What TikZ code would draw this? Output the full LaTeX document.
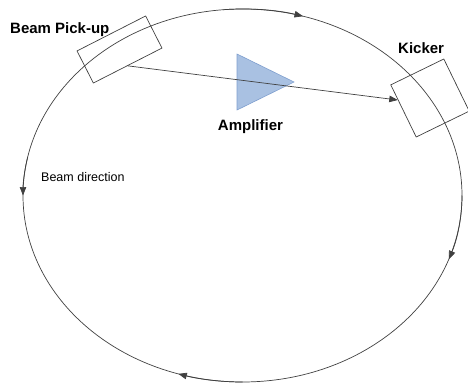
\documentclass[tikz,border=0pt]{standalone}
\usepackage{fontspec}
\setmainfont{Liberation Sans}
\usetikzlibrary{positioning, calc, arrows.meta}

\definecolor{ampfill}{RGB}{169,193,226}
\definecolor{ampline}{RGB}{127,159,207}

\begin{document}
\begin{tikzpicture}[
        x=1pt, y=-1pt,
        >={Triangle[length=8.5pt, width=6.5pt]},
        ring/.style={draw=black!75, line width=0.7pt},
        beamarr/.style={ring, ->},
        box/.style={draw=black!75, line width=0.7pt, inner sep=0pt},
        amptri/.style={fill=ampfill, draw=ampline, line width=0.6pt},
        lbl/.style={font=\fontsize{15}{18}\selectfont\bfseries, inner sep=0pt},
        smlbl/.style={font=\fontsize{12.5}{15}\selectfont, inner sep=0pt},
    ]
        \useasboundingbox (0,0) rectangle (468,388);

        % storage ring
        \coordinate (ctr) at (242.5,195.5);
        \draw[ring] (ctr) ellipse [x radius=219.5, y radius=186.5];

        % beam direction arrows on the ring
        \draw[beamarr] ($(ctr)+(-95:219.5 and 186.5)$)
            arc[start angle=-95, end angle=-74, x radius=219.5, y radius=186.5];
        \draw[beamarr] ($(ctr)+(0:219.5 and 186.5)$)
            arc[start angle=0, end angle=20, x radius=219.5, y radius=186.5];
        \draw[beamarr] ($(ctr)+(90:219.5 and 186.5)$)
            arc[start angle=90, end angle=107, x radius=219.5, y radius=186.5];
        \draw[beamarr] ($(ctr)+(192:219.5 and 186.5)$)
            arc[start angle=192, end angle=180, x radius=219.5, y radius=186.5];

        % pick-up and kicker
        \node[box, rotate=27, minimum width=77pt, minimum height=36pt] (pickup) at (119.5,49.5) {};
        \node[box, rotate=26, minimum width=59pt, minimum height=58pt] (kicker) at (430,98) {};

        % amplifier
        \filldraw[amptri] (237,54) -- (294,82) -- (237,110) -- cycle;

        % signal path
        \draw[beamarr] (pickup.south) -- ($(kicker.north west)!0.29!(kicker.south west)$);

        % labels
        \node[lbl, anchor=base west]   (pickuplbl) at (10,33)    {Beam Pick-up};
        \node[lbl, anchor=base west]   (kickerlbl) at (398,53)   {Kicker};
        \node[lbl, anchor=base]        (amplbl)    at (250.5,130) {Amplifier};
        \node[smlbl, anchor=base west] (dirlbl)    at (41,181)   {Beam direction};
    \end{tikzpicture}
\end{document}
